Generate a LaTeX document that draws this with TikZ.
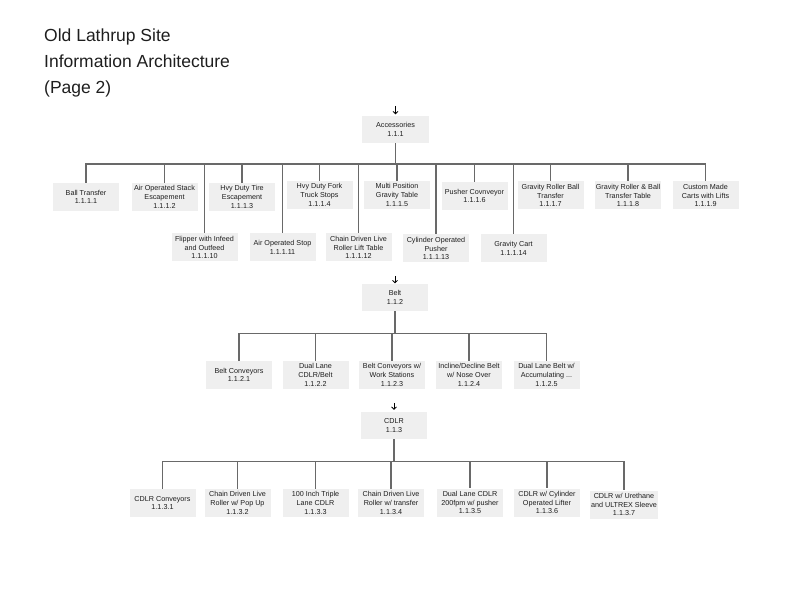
\documentclass[tikz,border=0pt]{standalone}
\usepackage{fontspec}
\setmainfont{Liberation Sans}
\usetikzlibrary{arrows.meta}
\definecolor{BoxClr}{RGB}{239,239,239}
\definecolor{LinkClr}{RGB}{105,105,105}
\definecolor{TextClr}{RGB}{30,30,30}

\begin{document}
\begin{tikzpicture}[x=1pt,y=-1pt,
  item/.style={fill=BoxClr,text=TextClr,minimum width=66pt,minimum height=28pt,inner sep=1pt,align=center,font=\fontsize{7.2}{8.7}\selectfont},
  link/.style={draw=LinkClr,line width=1.4pt},
  inarrow/.style={-{Straight Barb[length=2.4pt,width=5pt]},line width=0.8pt}]
\useasboundingbox (0,0) rectangle (792,612);

\node[anchor=north west,inner sep=0pt,align=left,text=TextClr,font=\fontsize{17.5}{26}\selectfont] (title) at (44,28.5) {Old Lathrup Site\\Information Architecture\\(Page 2)};

% accessories
\node[item,minimum width=67pt,minimum height=27pt] (acc) at (395.5,129.5) {Accessories\\1.1.1};
\node[item] (acc1) at (86,197) {Ball Transfer\\1.1.1.1};
\node[item] (acc2) at (164.5,197) {Air Operated Stack\\Escapement\\1.1.1.2};
\node[item] (acc3) at (242,197) {Hvy Duty Tire\\Escapement\\1.1.1.3};
\node[item] (acc4) at (319.5,195) {Hvy Duty Fork\\Truck Stops\\1.1.1.4};
\node[item] (acc5) at (397,195) {Multi Position\\Gravity Table\\1.1.1.5};
\node[item] (acc6) at (474.5,196) {Pusher Covnveyor\\1.1.1.6};
\node[item] (acc7) at (550.5,195.5) {Gravity Roller Ball\\Transfer\\1.1.1.7};
\node[item] (acc8) at (628,195.5) {Gravity Roller \& Ball\\Transfer Table\\1.1.1.8};
\node[item] (acc9) at (705.5,195.5) {Custom Made\\Carts with Lifts\\1.1.1.9};
\node[item] (acc10) at (204.5,247.5) {Flipper with Infeed\\and Outfeed\\1.1.1.10};
\node[item] (acc11) at (282.5,247.5) {Air Operated Stop\\1.1.1.11};
\node[item] (acc12) at (358.5,247.5) {Chain Driven Live\\Roller Lift Table\\1.1.1.12};
\node[item] (acc13) at (436,248.5) {Cylinder Operated\\Pusher\\1.1.1.13};
\node[item] (acc14) at (513.5,248.5) {Gravity Cart\\1.1.1.14};

% belt
\node[item,minimum height=27pt] (belt) at (395,297.5) {Belt\\1.1.2};
\node[item] (belt1) at (239,375) {Belt Conveyors\\1.1.2.1};
\node[item] (belt2) at (315.5,375) {Dual Lane\\CDLR/Belt\\1.1.2.2};
\node[item] (belt3) at (392,375) {Belt Conveyors w/\\Work Stations\\1.1.2.3};
\node[item] (belt4) at (469,375) {Incline/Decline Belt\\w/ Nose Over\\1.1.2.4};
\node[item] (belt5) at (546.5,375) {Dual Lane Belt w/\\Accumulating ...\\1.1.2.5};

% cdlr
\node[item,minimum height=27pt] (cdlr) at (394,425.5) {CDLR\\1.1.3};
\node[item] (cdlr1) at (162.5,503) {CDLR Conveyors\\1.1.3.1};
\node[item] (cdlr2) at (237.5,503) {Chain Driven Live\\Roller w/ Pop Up\\1.1.3.2};
\node[item] (cdlr3) at (315.5,503) {100 Inch Triple\\Lane CDLR\\1.1.3.3};
\node[item] (cdlr4) at (391,503) {Chain Driven Live\\Roller w/ transfer\\1.1.3.4};
\node[item] (cdlr5) at (470,502.5) {Dual Lane CDLR\\200fpm w/ pusher\\1.1.3.5};
\node[item] (cdlr6) at (547,502.5) {CDLR w/ Cylinder\\Operated Lifter\\1.1.3.6};
\node[item] (cdlr7) at (624,504.5) {CDLR w/ Urethane\\and ULTREX Sleeve\\1.1.3.7};

\foreach \n in {1,...,14} \draw[link] (acc.south) -- ++(0,21) -| (acc\n.north);
\foreach \n in {1,...,5} \draw[link] (belt.south) -- ++(0,22) -| (belt\n.north);
\foreach \n in {1,...,7} \draw[link] (cdlr.south) -- ++(0,22) -| (cdlr\n.north);

\draw[inarrow] ([yshift=10pt]acc.north) -- ([yshift=1.5pt]acc.north);
\draw[inarrow] ([yshift=8pt]belt.north) -- ([yshift=0.5pt]belt.north);
\draw[inarrow] ([yshift=9pt]cdlr.north) -- ([yshift=2pt]cdlr.north);

\end{tikzpicture}
\end{document}
